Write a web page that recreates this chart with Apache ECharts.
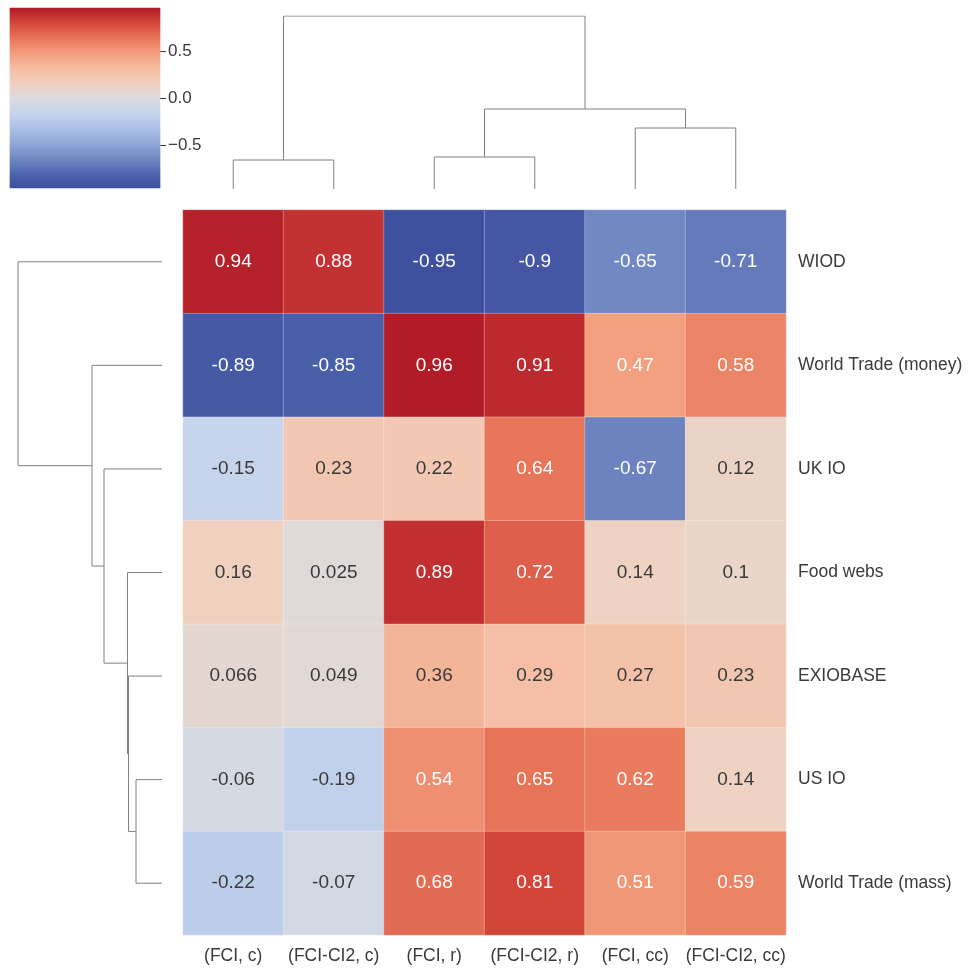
<!DOCTYPE html>
<html><head><meta charset="utf-8">
<script src="https://cdn.jsdelivr.net/npm/echarts@6/dist/echarts.min.js"></script>
<style>html,body{margin:0;padding:0;background:#fff}#c{width:975px;height:968px}</style>
</head><body><div id="c"></div>
<script>
const cols = ['(FCI, c)','(FCI-CI2, c)','(FCI, r)','(FCI-CI2, r)','(FCI, cc)','(FCI-CI2, cc)'];
const rows = ['WIOD','World Trade (money)','UK IO','Food webs','EXIOBASE','US IO','World Trade (mass)'];
const values = [
 [0.94,0.88,-0.95,-0.9,-0.65,-0.71],
 [-0.89,-0.85,0.96,0.91,0.47,0.58],
 [-0.15,0.23,0.22,0.64,-0.67,0.12],
 [0.16,0.025,0.89,0.72,0.14,0.1],
 [0.066,0.049,0.36,0.29,0.27,0.23],
 [-0.06,-0.19,0.54,0.65,0.62,0.14],
 [-0.22,-0.07,0.68,0.81,0.51,0.59]
];
// dendrogram links: [pos1, h1, pos2, h2, height]
const topLinks = [[0,0,1,0,29],[2,0,3,0,32],[4,0,5,0,61],[2.5,32,4.5,61,80],[0.5,29,3.5,80,173]];
const leftLinks = [[5,0,6,0,26],[4,0,5.5,26,33.5],[3,0,4.75,33.5,34.5],[2,0,3.875,34.5,58],[1,0,2.9375,58,70],[0,0,1.96875,70,144]];
const cbTicks = [-0.5,0,0.5];
const vmin=-0.96, vmax=0.96;
const palette=['rgb(62,78,158)','rgb(80,102,175)','rgb(115,138,196)','rgb(145,168,215)','rgb(172,192,230)','rgb(198,213,237)','rgb(220,220,222)','rgb(240,208,190)','rgb(245,187,160)','rgb(242,158,126)','rgb(232,118,90)','rgb(212,72,60)','rgb(178,28,40)'];

const heat=[];
values.forEach((r,i)=>r.forEach((v,j)=>heat.push([j,i,v])));
const cbN=180, cbData=[], cbCats=[];
for(let k=0;k<cbN;k++){cbCats.push(k);cbData.push([0,k,vmin+(vmax-vmin)*(k+0.5)/cbN]);}
const FONT='Liberation Sans';
const series=[{
  type:'heatmap',xAxisIndex:0,yAxisIndex:0,
  data:heat.map(d=>({value:d,label:{color:Math.abs(d[2])>0.4?'#ffffff':'#3a3a3a'}})),
  itemStyle:{borderColor:'rgba(255,255,255,0.45)',borderWidth:0.6},
  label:{show:true,fontSize:19,fontFamily:FONT,formatter:p=>String(p.value[2])}
},{
  type:'heatmap',xAxisIndex:3,yAxisIndex:3,data:cbData,itemStyle:{borderWidth:0}
}];
const lineStyle={color:'#808080',width:1};
topLinks.forEach(l=>series.push({type:'line',xAxisIndex:1,yAxisIndex:1,symbol:'none',silent:true,lineStyle,
  data:[[l[0],l[1]],[l[0],l[4]],[l[2],l[4]],[l[2],l[3]]]}));
leftLinks.forEach(l=>series.push({type:'line',xAxisIndex:2,yAxisIndex:2,symbol:'none',silent:true,lineStyle,
  data:[[l[1],l[0]],[l[4],l[0]],[l[4],l[2]],[l[3],l[2]]]}));
series.push({type:'line',xAxisIndex:4,yAxisIndex:4,data:[],silent:true});

const hidden={show:false};
const opt={
  animation:false,
  textStyle:{fontFamily:FONT},
  grid:[
    {left:183,top:210,width:603,height:725},
    {left:183,top:16,width:603,height:173},
    {left:18,top:210,width:144,height:725},
    {left:10,top:8,width:150,height:180}
  ],
  visualMap:{show:false,min:vmin,max:vmax,dimension:2,seriesIndex:[0,1],inRange:{color:palette}},
  xAxis:[
    {type:'category',data:cols,gridIndex:0,position:'bottom',axisLine:hidden,axisTick:hidden,
      axisLabel:{fontSize:17.5,color:'#3a3a3a',margin:12,interval:0,fontFamily:FONT}},
    {type:'value',gridIndex:1,min:-0.5,max:5.5,show:false},
    {type:'value',gridIndex:2,min:0,max:144,inverse:true,show:false},
    {type:'category',gridIndex:3,data:[0],show:false},
    {type:'value',gridIndex:3,min:0,max:1,show:false}
  ],
  yAxis:[
    {type:'category',data:rows,gridIndex:0,inverse:true,position:'right',axisLine:hidden,axisTick:hidden,
      axisLabel:{fontSize:17.5,color:'#3a3a3a',margin:12,interval:0,fontFamily:FONT}},
    {type:'value',gridIndex:1,min:0,max:173,show:false},
    {type:'value',gridIndex:2,min:-0.5,max:6.5,inverse:true,show:false},
    {type:'category',gridIndex:3,data:cbCats,show:false},
    {type:'value',gridIndex:3,min:vmin,max:vmax,position:'right',splitLine:hidden,axisLine:hidden,
      axisTick:{show:true,length:6,lineStyle:{color:'#3a3a3a'},customValues:cbTicks},
      axisLabel:{fontSize:17,color:'#3a3a3a',margin:8,customValues:cbTicks,fontFamily:FONT,
        formatter:v=>(v<0?'\u2212':'')+Math.abs(v).toFixed(1)}}
  ],
  series
};
const ch=echarts.init(document.getElementById('c'),null,{renderer:'canvas'});
ch.setOption(opt);
</script></body></html>
